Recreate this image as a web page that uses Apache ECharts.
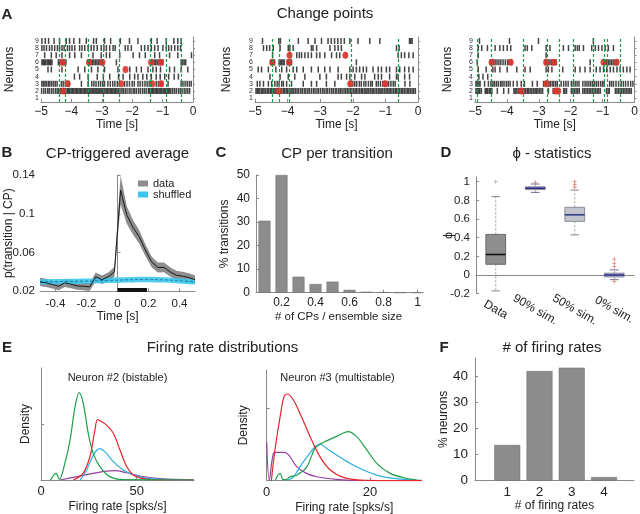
<!DOCTYPE html>
<html><head><meta charset="utf-8">
<script src="https://cdn.jsdelivr.net/npm/echarts@6/dist/echarts.min.js"></script>
<style>html,body{margin:0;padding:0;background:#fff}#c{width:640px;height:514px}</style>
</head><body><div id="c"></div>
<script>
// ---------------- DATA ----------------
// Panel A: spike rasters (index 0 = neuron 1 ... index 8 = neuron 9), times in s
const neuronTicks = [1,2,3,4,5,6,7,8,9];
const rasterA1 = [
  [],
  [-4.98,-4.91,-4.85,-4.78,-4.73,-4.66,-4.60,-4.53,-4.47,-4.42,-4.36,-4.32,-4.27,-4.23,-4.19,-4.14,-4.10,-4.06,-4.01,-3.97,-3.93,-3.88,-3.84,-3.80,-3.75,-3.71,-3.67,-3.62,-3.58,-3.54,-3.49,-3.45,-3.41,-3.36,-3.32,-3.28,-3.23,-3.19,-3.15,-3.10,-3.06,-3.02,-2.97,-2.93,-2.89,-2.84,-2.80,-2.76,-2.71,-2.67,-2.63,-2.58,-2.54,-2.50,-2.45,-2.40,-2.34,-2.29,-2.23,-2.17,-2.10,-2.04,-1.97,-1.92,-1.86,-1.79,-1.73,-1.66,-1.60,-1.54,-1.47,-1.43,-1.38,-1.34,-1.30,-1.25,-1.21,-1.17,-1.12,-1.08,-1.04,-0.99,-0.95,-0.91,-0.86,-0.82,-0.78,-0.73,-0.67,-0.61,-0.55,-0.48,-0.42,-0.36,-0.29,-0.23,-0.17,-0.11],
  [-4.97,-4.92,-4.87,-4.82,-4.76,-4.71,-4.65,-4.59,-4.53,-4.47,-4.33,-4.27,-4.20,-4.13,-4.07,-3.67,-3.45,-3.33,-3.26,-3.19,-3.11,-3.04,-2.97,-2.91,-2.80,-2.72,-2.64,-2.57,-2.49,-2.42,-2.25,-2.17,-2.09,-2.00,-1.93,-1.81,-1.74,-1.66,-1.58,-1.51,-1.44,-1.37,-1.21,-1.14,-1.07,-1.00,-0.82,-0.39,-0.33,-0.26,-0.19,-0.12,-0.06],
  [-3.90,-3.73,-3.45,-3.15,-2.95,-2.74,-2.45,-2.30,-2.08,-1.92,-1.81,-1.65,-1.52,-1.37,-1.21,-1.08,-0.93,-0.80,-0.62,-0.48],
  [-4.77,-4.66,-4.31,-3.78,-3.56,-3.34,-3.13,-2.91,-2.47,-2.08,-1.86,-1.70,-1.48,-1.32,-1.21,-1.07,-0.77,-0.61,-0.39,-0.17],
  [-4.97,-4.93,-4.89,-4.85,-4.80,-4.76,-4.72,-4.68,-4.64,-4.43,-4.38,-4.33,-4.28,-4.23,-4.18,-3.45,-3.41,-3.36,-3.31,-3.26,-3.21,-3.16,-3.11,-3.06,-3.01,-2.97,-2.52,-1.37,-1.33,-1.28,-1.23,-1.18,-1.13,-1.08,-1.03,-0.99,-0.39,-0.34,-0.29,-0.24],
  [-4.88,-4.66,-4.50,-4.31,-4.06,-3.89,-3.67,-3.29,-3.02,-2.85,-2.74,-2.41,-1.97,-1.76,-1.57,-1.26,-1.10,-0.77,-0.50,-0.05],
  [-4.97,-4.90,-4.82,-4.72,-4.64,-4.55,-4.46,-4.39,-4.31,-4.24,-4.13,-4.06,-3.98,-3.89,-3.73,-3.65,-3.56,-3.45,-3.35,-3.26,-3.15,-3.02,-2.93,-2.85,-2.74,-2.63,-2.56,-2.23,-2.14,-2.03,-1.70,-1.59,-1.48,-1.37,-1.26,-1.15,-0.99,-0.88,-0.80,-0.71,-0.60,-0.50,-0.41],
  [-4.97,-4.86,-4.75,-4.57,-4.39,-4.17,-4.06,-3.92,-3.73,-3.51,-3.27,-3.18,-2.91,-2.71,-2.39,-2.09,-1.81,-1.37,-1.18,-0.88,-0.63,-0.50,-0.39]
];
const rasterA2 = [
  [],
  [-4.97,-4.93,-4.89,-4.85,-4.80,-4.76,-4.72,-4.67,-4.62,-4.58,-4.53,-4.49,-4.44,-4.39,-4.35,-4.31,-4.27,-4.22,-4.18,-4.13,-4.09,-4.04,-4.00,-3.95,-3.90,-3.86,-3.81,-3.76,-3.71,-3.66,-3.60,-3.55,-3.49,-3.44,-3.38,-3.33,-3.27,-3.21,-3.16,-3.10,-3.05,-2.99,-2.93,-2.88,-2.82,-2.77,-2.71,-2.65,-2.60,-2.54,-2.49,-2.43,-2.38,-2.33,-2.27,-2.22,-2.17,-2.12,-2.07,-2.03,-1.98,-1.93,-1.89,-1.84,-1.79,-1.74,-1.70,-1.65,-1.60,-1.56,-1.51,-1.46,-1.41,-1.37,-1.32,-1.27,-1.22,-1.17,-1.13,-1.08,-1.03,-0.98,-0.94,-0.89,-0.85,-0.80,-0.75,-0.70,-0.66,-0.61,-0.56,-0.51,-0.47,-0.42,-0.37,-0.32,-0.28,-0.23,-0.18,-0.13,-0.08],
  [-4.93,-4.85,-4.74,-4.59,-4.49,-4.39,-4.32,-4.26,-4.18,-4.13,-4.03,-3.88,-3.52,-3.27,-3.11,-2.81,-2.55,-2.09,-2.00,-1.94,-1.88,-1.80,-1.74,-1.66,-1.60,-1.52,-1.45,-1.40,-1.28,-1.22,-1.15,-1.08,-1.02,-0.96,-0.90,-0.83,-0.76,-0.70,-0.40,-0.25],
  [-4.54,-4.23,-3.98,-3.78,-3.47,-3.01,-2.81,-2.45,-2.35,-2.19,-2.09,-1.94,-1.73,-1.63,-1.33,-1.22,-1.12,-0.87,-0.66,-0.61,-0.41,-0.26],
  [-4.90,-4.80,-4.59,-4.36,-4.18,-4.03,-3.83,-3.72,-3.52,-3.27,-3.06,-2.86,-2.70,-2.45,-2.09,-1.99,-1.89,-1.79,-1.68,-1.58,-1.38,-1.22,-1.12,-0.97,-0.87,-0.66,-0.56,-0.41,-0.28,-0.15],
  [-4.52,-4.49,-4.46,-4.43,-4.40,-4.26,-4.22,-4.18,-4.14,-4.10,-4.01,-3.98,-3.95,-3.91,-3.88,-1.89],
  [-4.46,-3.93,-3.72,-3.64,-3.57,-3.47,-3.37,-3.27,-3.11,-3.01,-2.86,-2.65,-2.50,-2.40,-2.22,-0.61,-0.51,-0.41,-0.28,-0.15],
  [-4.74,-4.64,-4.55,-4.44,-4.23,-3.98,-3.93,-3.83,-3.27,-3.22,-3.11,-2.70,-2.55,-2.45,-2.35,-0.66,-0.58],
  [-4.77,-4.27,-4.22,-3.67,-3.37,-3.16,-2.96,-2.76,-2.66,-2.56,-2.46,-2.36,-2.26,-2.09,-1.84,-1.48,-1.17,-0.26,-0.22,-0.18]
];
const rasterA3 = [
  [],
  [-4.97,-4.93,-4.89,-4.85,-4.80,-4.68,-4.64,-4.60,-4.55,-4.51,-4.47,-4.30,-4.10,-3.95,-3.78,-3.74,-3.69,-3.64,-3.60,-3.55,-3.50,-3.46,-3.41,-3.36,-3.32,-3.27,-3.22,-3.17,-3.12,-3.08,-3.03,-2.98,-2.93,-2.88,-2.70,-2.55,-2.50,-2.46,-2.42,-2.38,-2.22,-2.18,-2.13,-1.98,-1.93,-1.88,-1.83,-1.78,-1.73,-1.62,-1.57,-1.52,-1.47,-1.42,-1.37,-1.32,-1.27,-1.22,-1.17,-1.12,-1.07,-0.88,-0.83,-0.79,-0.60,-0.55,-0.50,-0.45,-0.40,-0.35,-0.30,-0.25,-0.20,-0.15,-0.10],
  [-4.97,-4.93,-4.88,-4.84,-4.70,-4.58,-4.50,-4.44,-4.39,-4.33,-4.27,-4.20,-4.15,-4.09,-4.02,-3.96,-3.90,-3.80,-3.68,-3.55,-3.45,-3.20,-3.05,-2.85,-2.79,-2.74,-2.69,-2.64,-2.58,-2.53,-2.47,-2.42,-2.30,-2.22,-2.15,-2.08,-1.98,-1.92,-1.86,-1.80,-1.74,-1.62,-1.55,-1.49,-1.43,-1.37,-1.31,-1.25,-1.19,-1.13,-1.06,-1.00,-0.95,-0.78,-0.72,-0.66,-0.58,-0.50,-0.42,-0.35,-0.28,-0.20,-0.12,-0.05],
  [-4.88,-4.75,-4.60],
  [-4.90,-4.65,-4.44,-4.37,-4.22,-3.99,-3.69,-3.43,-3.27,-2.77,-2.70,-2.59,-2.25,-1.86,-1.71,-1.55,-1.39,-1.20,-1.08,-0.97,-0.87,-0.76,-0.66,-0.55,-0.45,-0.35,-0.24,-0.14],
  [-4.93,-4.52,-4.47,-4.42,-4.37,-4.31,-4.25,-4.19,-4.12,-4.05,-3.98,-3.93,-3.87,-2.80,-2.75,-2.70,-2.65,-2.60,-2.55,-2.50,-2.45,-1.39,-0.97,-0.92,-0.87,-0.82,-0.77,-0.72,-0.67,-0.62,-0.57,-0.52],
  [-4.90,-2.77],
  [-4.90,-4.79,-4.61,-4.37,-4.22,-4.11,-3.99,-3.88,-3.43,-3.36,-3.22,-2.77,-2.65,-2.23,-2.07,-1.86,-1.79,-1.73,-1.60,-1.34,-1.23,-1.13,-1.02,-0.92,-0.82,-0.66],
  [-4.86,-3.92,-3.01,-1.29]
];
// change-point markers [time, neuron]
const cpA1 = [[-4.28,6],[-3.42,6],[-2.98,6],[-1.38,6],[-1.06,6],[-2.22,5],[-4.12,3],[-2.36,3],[-1.34,3],[-1.05,3],[-4.27,2]];
const cpA2 = [[-3.94,7],[-2.23,7],[-4.47,6],[-3.95,6],[-2.08,3],[-1.01,3],[-4.27,2]];
const cpA3 = [[-4.48,6],[-3.88,6],[-2.77,6],[-2.52,6],[-0.97,6],[-0.56,6],[-2.76,3],[-3.55,2],[-2.47,2],[-2.39,2]];
// transitions (green dashed lines), s
const transA1 = [-4.40,-4.20,-3.43,-2.95,-2.42,-1.39,-0.89,-0.39];
const transA2 = [-4.46,-4.27,-3.95,-2.05,-0.61];
const transA3 = [-4.93,-4.48,-3.48,-2.75,-2.35,-1.91,-1.28,-0.95,-0.86,-0.45];

// Panel B: CP-triggered average
const cpTime   = [-0.5,-0.46,-0.42,-0.38,-0.34,-0.3,-0.26,-0.22,-0.18,-0.14,-0.1,-0.06,-0.02,0.02,0.06,0.1,0.14,0.18,0.22,0.26,0.3,0.34,0.38,0.42,0.46,0.5];
const dataMean = [0.0297,0.0287,0.0270,0.0252,0.0287,0.0273,0.0256,0.0252,0.0245,0.0349,0.0320,0.0349,0.0400,0.1245,0.0987,0.0860,0.0762,0.0625,0.0504,0.0446,0.0446,0.0400,0.0366,0.0356,0.0342,0.0320];
const dataErr  = [0.0043,0.0042,0.0042,0.0041,0.0042,0.0042,0.0041,0.0041,0.0041,0.0045,0.0044,0.0046,0.0050,0.0150,0.0090,0.0075,0.0068,0.0060,0.0055,0.0052,0.0050,0.0048,0.0046,0.0045,0.0044,0.0043];
const shufMean = [0.0297,0.0298,0.0299,0.0300,0.0301,0.0302,0.0303,0.0305,0.0306,0.0308,0.0310,0.0312,0.0314,0.0316,0.0318,0.0320,0.0322,0.0322,0.0322,0.0320,0.0318,0.0315,0.0311,0.0306,0.0301,0.0297];
const shufErr  = [0.0027,0.0027,0.0027,0.0027,0.0027,0.0027,0.0027,0.0027,0.0027,0.0027,0.0027,0.0027,0.0028,0.0028,0.0028,0.0028,0.0028,0.0028,0.0028,0.0028,0.0028,0.0027,0.0027,0.0027,0.0027,0.0027];
const sigWindow = [0, 0.19];
const sigLevel = 0.0213;
const bTicksX = [-0.4,-0.2,0,0.2,0.4];
const bTicksY = [0.02,0.06,0.1,0.14];

// Panel C: CP per transition
const cpFrac = [0.1,0.2,0.3,0.4,0.5,0.6,0.7,0.8,0.9,1.0];
const cpPct  = [30.6,50,6.8,3.7,4.7,1.2,0.4,0.2,0,0];
const cTicksX = [0.2,0.4,0.6,0.8,1];

// Panel D: phi statistics [lowWhisker, q1, median, q3, highWhisker]
const phiCats = ['Data','90% sim.','50% sim.','0% sim.'];
const phiBox = [
  [-0.17,0.115,0.22,0.435,0.84],
  [0.885,0.915,0.93,0.945,0.975],
  [0.43,0.575,0.645,0.725,0.91],
  [-0.05,-0.02,0.0,0.02,0.055]
];
const phiOutGray = [[0,1.0]];
const phiOutRed = [[1,0.995],[2,1.0],[2,0.97],[2,0.94],[3,0.17],[3,0.125],[3,0.09],[3,-0.07]];
const dTicksY = [-0.2,0,0.2,0.4,0.6,0.8,1];

// Panel E: firing-rate densities (x = rate, y = density, arbitrary units)
const e1Green  = [[5,0],[7.8,0.06],[9.6,0.005],[12.5,0.15],[15.2,0.357],[17.8,0.655],[20,0.78],[22.1,0.685],[24.7,0.417],[27.3,0.238],[30.8,0.12],[36,0.03],[43,0.003],[80,0]];
const e1Red    = [[16.9,0],[22,0.06],[25.6,0.21],[28.2,0.446],[29.6,0.54],[31.7,0.52],[34.3,0.49],[37.8,0.417],[41.3,0.268],[44.8,0.12],[48.2,0.045],[53.4,0.012],[60.4,0],[80,0]];
const e1Cyan   = [[20.4,0],[23.9,0.09],[27.3,0.22],[30.5,0.28],[33.4,0.253],[37.8,0.164],[43,0.09],[50,0.036],[58.7,0.01],[80,0]];
const e1Purple = [[9.9,0],[16.9,0.024],[25.6,0.054],[34.3,0.08],[38.6,0.083],[44.8,0.065],[51.7,0.036],[62.2,0.012],[80,0]];
const e2Red    = [[0.9,0],[1.6,0.277],[2.6,0.578],[3.35,0.759],[4.0,0.783],[5.16,0.729],[6.45,0.608],[8.4,0.398],[10.3,0.217],[12.3,0.096],[14.8,0.03],[18.1,0.006],[30,0]];
const e2Purple = [[0,0.352],[0.5,0.006],[1.3,0.247],[1.94,0.256],[3.5,0.256],[4.5,0.217],[5.8,0.127],[7.7,0.066],[9.7,0.036],[13.5,0.012],[18,0],[30,0]];
const e2Green  = [[1.6,0],[2.6,0.066],[3.2,0.01],[3.8,0.01],[4.5,0.036],[5.8,0.05],[7.7,0.12],[9.3,0.29],[10.3,0.33],[11.6,0.36],[13.5,0.40],[15.8,0.443],[17.4,0.398],[19.4,0.277],[21.3,0.157],[23.9,0.066],[26.5,0.027],[29,0.006],[30,0.003]];
const e2Cyan   = [[3.9,0],[5.2,0.036],[6.45,0.127],[8.1,0.232],[9.35,0.307],[10.3,0.331],[11.6,0.292],[13.5,0.232],[16.1,0.157],[18.7,0.096],[21.3,0.051],[24.5,0.021],[29,0.003],[30,0]];
const e1TicksX = [0,50];
const e2TicksX = [0,20];

// Panel F: number of firing rates
const nRates = [1,2,3,4];
const nRatesPct = [13.7,42.0,43.3,1.4];
const fTicksY = [0,10,20,30,40];

// ---------------- STYLE ----------------
const FONT = '"Liberation Sans", Arial, Helvetica, sans-serif';
const AX = '#8a8a8a';
const TXT = '#222';
const GREEN = '#1f9e4a', RED = '#e3262c', CYAN = '#2aaee2', PURPLE = '#9a3f9c';
const boxStyles = [
  {fill:'#8e8e8e', border:'#6a6a6a', med:'#111111', cap:'#8a8a8a'},
  {fill:'#c5c7d8', border:'#8888a8', med:'#2e2e80', cap:'#6a6a90'},
  {fill:'#c2c4cc', border:'#8c8c98', med:'#2f3d85', cap:'#8a8a8a'},
  {fill:'#b8bad0', border:'#8888a8', med:'#2e2e80', cap:'#6a6a90'}
];

const grids = [
  {left:41, top:37, width:152, height:65},
  {left:255, top:37, width:163, height:65},
  {left:475, top:37, width:159.5, height:65},
  {left:40, top:175, width:155, height:116.3},
  {left:256, top:175, width:165, height:117.7},
  {left:476, top:177, width:158, height:116.7},
  {left:41, top:368, width:153, height:112},
  {left:266.7, top:370, width:155, height:110.7},
  {left:475, top:358, width:159, height:122.7}
].map(g => Object.assign({outerBoundsMode:'none', containLabel:false, show:false}, g));

function axisCommon(gi, o) {
  const base = {
    gridIndex: gi,
    axisLine: {show:true, lineStyle:{color:AX, width:1}},
    axisTick: {show:true, inside:true, length:3, lineStyle:{color:AX}},
    axisLabel: {color:TXT, fontSize:12, fontFamily:FONT},
    splitLine: {show:false},
    nameTextStyle: {color:TXT, fontSize:12, fontFamily:FONT},
    nameLocation: 'middle',
    nameMoveOverlap: false
  };
  const r = Object.assign({}, base, o);
  r.axisLabel = Object.assign({}, base.axisLabel, o.axisLabel || {});
  r.axisTick = Object.assign({}, base.axisTick, o.axisTick || {});
  r.nameTextStyle = Object.assign({}, base.nameTextStyle, o.nameTextStyle || {});
  return r;
}
const minus = v => String(v).replace('-', '\u2212');

const xAxes = [], yAxes = [];
const rasterNameGap = [25, 22, 21];
for (let p = 0; p < 3; p++) {
  xAxes.push(axisCommon(p, {type:'value', min:-5, max:0, interval:1, name:'Time [s]', nameGap:17,
    axisLabel:{margin:4, formatter:minus}}));
  yAxes.push(axisCommon(p, {type:'value', min:0.45, max:9.55, name:'Neurons', nameGap:rasterNameGap[p],
    axisLabel:{fontSize:7, margin:2, customValues:neuronTicks, color:'#333'},
    axisTick:{length:2, customValues:neuronTicks}}));
}
// B
xAxes.push(axisCommon(3, {type:'value', min:-0.5, max:0.5, name:'Time [s]', nameGap:19,
  axisLabel:{margin:7, fontSize:11.5, customValues:bTicksX}, axisTick:{customValues:bTicksX}}));
yAxes.push(axisCommon(3, {type:'value', min:0.02, max:0.14, name:'p(transition | CP)', nameGap:25,
  axisLabel:{margin:5, fontSize:11.5, customValues:bTicksY, formatter:v=>String(+v.toFixed(2))}, axisTick:{customValues:bTicksY}}));
// C
xAxes.push(axisCommon(4, {type:'value', min:0.05, max:1.02, name:'# of CPs / ensemble size', nameGap:18,
  nameTextStyle:{fontSize:11.5},
  axisLabel:{margin:4, customValues:cTicksX, formatter:v=>String(+v.toFixed(1))}, axisTick:{customValues:cTicksX}}));
yAxes.push(axisCommon(4, {type:'value', min:0, max:50, interval:10, name:'% transitions', nameGap:25,
  axisLabel:{margin:6}}));
// D
xAxes.push(axisCommon(5, {type:'category', data:phiCats, boundaryGap:true,
  axisTick:{show:false}, axisLabel:{rotate:-30, align:'center', verticalAlign:'middle', margin:16, fontSize:12, interval:0}}));
yAxes.push(axisCommon(5, {type:'value', min:-0.2, max:1.05, name:'\u03D5', nameGap:21,
  axisLabel:{margin:6, fontSize:11.5, customValues:dTicksY, formatter:v=>String(+v.toFixed(1))}, axisTick:{customValues:dTicksY}}));
// E1
xAxes.push(axisCommon(6, {type:'value', min:0, max:80, name:'Firing rate [spks/s]', nameGap:21,
  axisLabel:{margin:5, fontSize:13, customValues:e1TicksX}, axisTick:{customValues:e1TicksX}}));
yAxes.push(axisCommon(6, {type:'value', min:0, max:1, name:'Density', nameGap:9,
  axisLabel:{show:false}, axisTick:{customValues:[0.5]}}));
// E2
xAxes.push(axisCommon(7, {type:'value', min:0, max:30, name:'Firing rate [spks/s]', nameGap:21,
  axisLabel:{margin:5, fontSize:13, customValues:e2TicksX}, axisTick:{customValues:e2TicksX}}));
yAxes.push(axisCommon(7, {type:'value', min:0, max:1, name:'Density', nameGap:17,
  axisLabel:{show:false}, axisTick:{customValues:[0.654]}}));
// F
xAxes.push(axisCommon(8, {type:'value', min:0, max:4.93, name:'# of firing rates', nameGap:19,
  axisLabel:{margin:5, fontSize:13.5, customValues:nRates}, axisTick:{show:false}}));
yAxes.push(axisCommon(8, {type:'value', min:0, max:47, name:'% neurons', nameGap:25,
  axisLabel:{margin:7, fontSize:13.5, customValues:fTicksY}, axisTick:{customValues:fTicksY}}));

// ---------------- SERIES ----------------
const series = [];
const rasters = [rasterA1, rasterA2, rasterA3];
const cps = [cpA1, cpA2, cpA3];
const trans = [transA1, transA2, transA3];
for (let p = 0; p < 3; p++) {
  const pts = [];
  rasters[p].forEach((row, i) => row.forEach(t => pts.push([t, i + 1])));
  series.push({type:'scatter', xAxisIndex:p, yAxisIndex:p, data:pts, symbol:'rect', symbolSize:[1.5,6],
    itemStyle:{color:'#151515'}, silent:true, z:2,
    markLine:{silent:true, symbol:['none','none'], label:{show:false}, animation:false,
      lineStyle:{color:GREEN, type:[3,2], width:1.2}, data:trans[p].map(t => ({xAxis:t}))}});
  series.push({type:'scatter', xAxisIndex:p, yAxisIndex:p, data:cps[p], symbol:'circle', symbolSize:[6,7],
    itemStyle:{color:'#e0352f', opacity:0.9}, silent:true, z:4});
}
// B bands drawn as polygons through the axis scales
function bandSeries(name, mean, err, color, opacity) {
  return {type:'custom', name:name, xAxisIndex:3, yAxisIndex:3, silent:true,
    itemStyle:{color:color},
    data: cpTime.map((t,i)=>[t, mean[i]-err[i], mean[i]+err[i]]),
    encode:{x:0, y:[1,2]},
    renderItem: function(params, api) {
      if (params.dataIndex !== 0) return null;
      const top = cpTime.map((t,i)=>api.coord([t, mean[i]+err[i]]));
      const bot = cpTime.map((t,i)=>api.coord([t, mean[i]-err[i]])).reverse();
      return {type:'polygon', shape:{points: top.concat(bot)}, style:{fill:color, opacity:opacity}};
    }};
}
series.push(bandSeries('data', dataMean, dataErr, '#8d8d8d', 1));
series.push(bandSeries('shuffled', shufMean, shufErr, '#3cc6ec', 0.9));
const lineBase = {type:'line', xAxisIndex:3, yAxisIndex:3, symbol:'none', silent:true};
series.push(Object.assign({}, lineBase, {name:'shufMean', data:cpTime.map((t,i)=>[t,shufMean[i]]),
  lineStyle:{color:'#1b7fa3', width:1, type:[3,2]}}));
series.push(Object.assign({}, lineBase, {name:'dataMean', data:cpTime.map((t,i)=>[t,dataMean[i]]),
  lineStyle:{color:'#1a1a1a', width:1}}));
series.push(Object.assign({}, lineBase, {name:'sig', data:[[sigWindow[0],sigLevel],[sigWindow[1],sigLevel]],
  lineStyle:{color:'#111', width:4}}));
// C bars
series.push({type:'bar', xAxisIndex:4, yAxisIndex:4, data:cpFrac.map((x,i)=>[x,cpPct[i]]), barWidth:12,
  itemStyle:{color:'#8c8c8c', borderColor:'#6e6e6e', borderWidth:0.5}, silent:true});
// D boxplots
series.push({type:'custom', xAxisIndex:5, yAxisIndex:5, silent:true,
  data: phiBox.map((b,i)=>[i].concat(b)),
  encode:{x:0, y:[1,2,3,4,5]},
  renderItem: function(params, api) {
    const i = api.value(0);
    const c = v => api.coord([i, v]);
    const band = api.size([1,0])[0];
    const bw = band*0.5, cw = band*0.22;
    const x = c(api.value(3))[0];
    const yLo = c(api.value(1))[1], yQ1 = c(api.value(2))[1], yMed = c(api.value(3))[1],
          yQ3 = c(api.value(4))[1], yHi = c(api.value(5))[1];
    const st = boxStyles[i];
    const wh = {stroke:'#9a9a9a', lineWidth:1, lineDash:[2,2]};
    return {type:'group', children:[
      {type:'line', shape:{x1:x,y1:yQ3,x2:x,y2:yHi}, style:wh},
      {type:'line', shape:{x1:x,y1:yQ1,x2:x,y2:yLo}, style:wh},
      {type:'line', shape:{x1:x-cw/2,y1:yHi,x2:x+cw/2,y2:yHi}, style:{stroke:st.cap, lineWidth:1}},
      {type:'line', shape:{x1:x-cw/2,y1:yLo,x2:x+cw/2,y2:yLo}, style:{stroke:st.cap, lineWidth:1}},
      {type:'rect', shape:{x:x-bw/2, y:yQ3, width:bw, height:Math.max(1,yQ1-yQ3)}, style:{fill:st.fill, stroke:st.border, lineWidth:1}},
      {type:'line', shape:{x1:x-bw/2,y1:yMed,x2:x+bw/2,y2:yMed}, style:{stroke:st.med, lineWidth:1.6}}
    ]};
  }});
const plusPath = 'path://M4,0H6V4H10V6H6V10H4V6H0V4H4Z';
series.push({type:'scatter', xAxisIndex:5, yAxisIndex:5, data:phiOutGray, symbol:plusPath, symbolSize:4,
  itemStyle:{color:'#9a9a9a'}, silent:true});
series.push({type:'scatter', xAxisIndex:5, yAxisIndex:5, data:phiOutRed, symbol:plusPath, symbolSize:4,
  itemStyle:{color:'#e0605a'}, silent:true});
// E curves
function curve(gi, data, color) {
  return {type:'line', xAxisIndex:gi, yAxisIndex:gi, data:data, smooth:0.35, symbol:'none', silent:true,
    lineStyle:{color:color, width:1.2}};
}
series.push(curve(6, e1Purple, PURPLE), curve(6, e1Cyan, CYAN), curve(6, e1Red, RED), curve(6, e1Green, GREEN));
series.push(curve(7, e2Purple, PURPLE), curve(7, e2Cyan, CYAN), curve(7, e2Green, GREEN), curve(7, e2Red, RED));
// F bars
series.push({type:'bar', xAxisIndex:8, yAxisIndex:8, data:nRates.map((x,i)=>[x,nRatesPct[i]]), barWidth:26,
  itemStyle:{color:'#8c8c8c', borderColor:'#6e6e6e', borderWidth:0.5}, silent:true});

// ---------------- TEXT ----------------
function txt(x, y, s, size, bold) {
  return {type:'text', x:x, y:y, silent:true,
    style:{text:s, fill:TXT, font:(bold?'bold ':'') + size + 'px ' + FONT,
      textAlign:'center', textVerticalAlign:'middle', align:'center', verticalAlign:'middle'}};
}
const graphics = [
  txt(7,15,'A',15,true), txt(7,153,'B',15,true), txt(221,153,'C',15,true),
  txt(446,153,'D',15,true), txt(7,348,'E',15,true), txt(444,348,'F',15,true),
  txt(325,14,'Change points',15), txt(117.5,154,'CP-triggered average',15),
  txt(337,154,'CP per transition',15), txt(552,154,'\u03D5 - statistics',15),
  txt(222.5,348,'Firing rate distributions',15), txt(552,348,'# of firing rates',15),
  txt(117.5,378,'Neuron #2 (bistable)',11), txt(337.5,378,'Neuron #3 (multistable)',11)
];

const chart = echarts.init(document.getElementById('c'), null, {renderer:'canvas'});
chart.setOption({
  animation:false,
  backgroundColor:'#fff',
  textStyle:{fontFamily:FONT},
  grid:grids,
  xAxis:xAxes,
  yAxis:yAxes,
  legend:{data:['data','shuffled'], left:136, top:177, orient:'vertical', icon:'rect',
    itemWidth:10, itemHeight:6, itemGap:0, padding:[1,2], backgroundColor:'#fff',
    textStyle:{fontSize:11, lineHeight:10.5, color:TXT, fontFamily:FONT}, selectedMode:false},
  series:series,
  graphic:graphics
});
</script></body></html>
